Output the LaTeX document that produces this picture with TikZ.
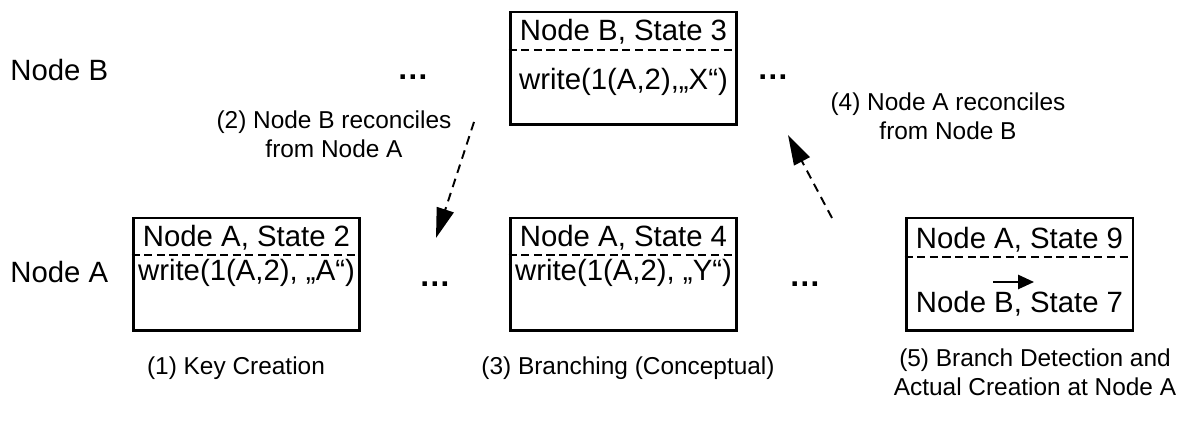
\documentclass[tikz,border=0pt]{standalone}
\usepackage{fontspec}
\setmainfont{Liberation Sans}
\usetikzlibrary{arrows.meta}

\begin{document}
\begin{tikzpicture}[
    x=0.02cm,
    y=-0.02cm,
    state/.style={draw, line width=1.7pt, minimum width=4.54cm, minimum height=2.26cm, inner sep=0pt},
    boxtext/.style={font=\fontsize{16.7}{20}\selectfont, inner sep=0pt},
    caption/.style={font=\fontsize{13.9}{16.4}\selectfont, align=center, inner sep=0pt},
    divider/.style={line width=1.1pt, dash pattern=on 4.6pt off 2.6pt},
    reconcile/.style={line width=1.1pt, dash pattern=on 5pt off 3.5pt, -{Triangle[length=17pt, width=10pt]}},
    dots/.style={font=\fontsize{18}{20}\selectfont\bfseries, inner sep=0pt}
]

% =========================================================
% PARAMETRI
% =========================================================

\useasboundingbox (0,0) rectangle (1179,421);

% Posizione delle righe
\def\yB{68.5}
\def\yA{274.5}

% Posizione delle colonne
\def\xOne{246.5}
\def\xTwo{623.5}
\def\xThree{1019.5}

% =========================================================
% RIGHE
% =========================================================

\node[boxtext, anchor=west] (rowB) at (10,70) {Node B};
\node[boxtext, anchor=west] (rowA) at (10,272) {Node A};

% =========================================================
% NODE B, STATE 3
% =========================================================

\node[state] (b3) at (\xTwo,\yB) {};
\node[boxtext] (b3title) at (\xTwo,32) {Node B, State 3};
\draw[divider] (b3.west |- 0,50) -- (b3.east |- 0,50);
\node[boxtext] (b3write) at (\xTwo,82) {write(1(A,2),„X“)};

% =========================================================
% NODE A, STATE 2
% =========================================================

\node[state] (a2) at (\xOne,\yA) {};
\node[boxtext] (a2title) at (\xOne,238) {Node A, State 2};
\draw[divider] (a2.west |- 0,255) -- (a2.east |- 0,255);
\node[boxtext] (a2write) at (\xOne,273) {write(1(A,2), „A“)};

% =========================================================
% NODE A, STATE 4
% =========================================================

\node[state] (a4) at (\xTwo,\yA) {};
\node[boxtext] (a4title) at (\xTwo,238) {Node A, State 4};
\draw[divider] (a4.west |- 0,255) -- (a4.east |- 0,255);
\node[boxtext] (a4write) at (\xTwo,273) {write(1(A,2), „Y“)};

% =========================================================
% NODE A, STATE 9
% =========================================================

\node[state] (a9) at (\xThree,\yA) {};
\node[boxtext] (a9title) at (\xThree,240) {Node A, State 9};
\draw[divider] (a9.west |- 0,257) -- (a9.east |- 0,257);
\coordinate (a9from) at (993,282);
\coordinate (a9to) at (1034,282);
\draw[line width=1.2pt, -{Triangle[length=9pt, width=8pt]}] (a9from) -- (a9to);
\node[boxtext] (a9b7) at (\xThree,304) {Node B, State 7};

% =========================================================
% PUNTINI
% =========================================================

\node[dots] (dotsB1) at (413,77) {…};
\node[dots] (dotsB2) at (773,77) {…};
\node[dots] (dotsA1) at (435,284) {…};
\node[dots] (dotsA2) at (805,284) {…};

% =========================================================
% RICONCILIAZIONI
% =========================================================

\coordinate (r2tail) at (474,122);
\coordinate (r2tip) at (436,238);
\draw[reconcile] (r2tail) -- (r2tip);
\node[caption] (r2label) at (334,134) {(2) Node B reconciles\\from Node A};

\coordinate (r4tail) at (832,218);
\coordinate (r4tip) at (788,135);
\draw[reconcile] (r4tail) -- (r4tip);
\node[caption] (r4label) at (948,116) {(4) Node A reconciles\\from Node B};

% =========================================================
% DIDASCALIE
% =========================================================

\node[caption] (cap1) at (236,368) {(1) Key Creation};
\node[caption] (cap3) at (628,368) {(3) Branching (Conceptual)};
\node[caption] (cap5) at (1035,372) {(5) Branch Detection and\\Actual Creation at Node A};

\end{tikzpicture}
\end{document}
